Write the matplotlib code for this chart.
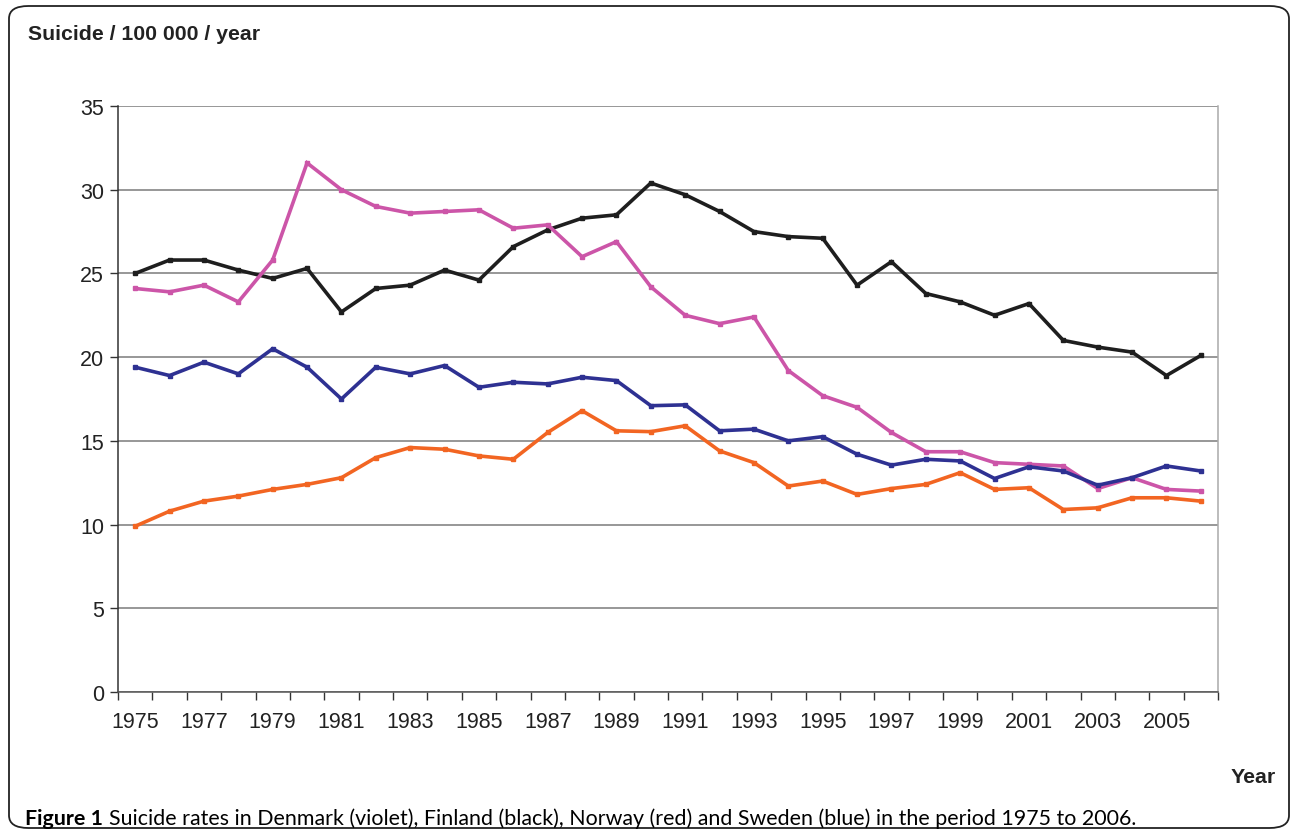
import numpy as np
import matplotlib
matplotlib.use("Agg")
import matplotlib.pyplot as plt
from matplotlib.patches import FancyBboxPatch

years = list(range(1975, 2007))

denmark = [24.1, 23.9, 24.3, 23.3, 25.8, 31.6, 30.0, 29.0, 28.6, 28.7, 28.8, 27.7,
           27.9, 26.0, 26.9, 24.2, 22.5, 22.0, 22.4, 19.2, 17.7, 17.0, 15.5, 14.35,
           14.35, 13.7, 13.6, 13.5, 12.15, 12.8, 12.1, 12.0]
finland = [25.0, 25.8, 25.8, 25.2, 24.7, 25.3, 22.7, 24.1, 24.3, 25.2, 24.6, 26.6,
           27.6, 28.3, 28.5, 30.4, 29.7, 28.7, 27.5, 27.2, 27.1, 24.3, 25.7, 23.8,
           23.3, 22.5, 23.2, 21.0, 20.6, 20.3, 18.9, 20.1]
norway = [9.9, 10.8, 11.4, 11.7, 12.1, 12.4, 12.8, 14.0, 14.6, 14.5, 14.1, 13.9,
          15.5, 16.8, 15.6, 15.55, 15.9, 14.4, 13.7, 12.3, 12.6, 11.8, 12.15, 12.4,
          13.1, 12.1, 12.2, 10.9, 11.0, 11.6, 11.6, 11.4]
sweden = [19.4, 18.9, 19.7, 19.0, 20.5, 19.4, 17.5, 19.4, 19.0, 19.5, 18.2, 18.5,
          18.4, 18.8, 18.6, 17.1, 17.15, 15.6, 15.7, 15.0, 15.25, 14.2, 13.55, 13.9,
          13.8, 12.75, 13.45, 13.2, 12.35, 12.8, 13.5, 13.2]

series = [
    (finland, "#1e1e1e"),
    (denmark, "#cc55a8"),
    (sweden, "#2e3192"),
    (norway, "#f26522"),
]

plt.rcParams["font.family"] = ["Liberation Sans", "DejaVu Sans"]

fig = plt.figure(figsize=(12.95, 8.37), dpi=100)

# rounded outer frame
frame = FancyBboxPatch((9 / 1295, 8 / 837), 1280 / 1295, 822 / 837,
                       boxstyle="round,pad=0,rounding_size=0.015",
                       transform=fig.transFigure, fill=False,
                       edgecolor="#222222", lw=1.3, zorder=0)
fig.patches.append(frame)

ax = fig.add_axes([118 / 1295, 1 - 693 / 837, 1100 / 1295, 586 / 837])
x = np.arange(len(years))
for vals, col in series:
    ax.plot(x, vals, color=col, lw=2.6, marker="s", ms=3.4,
            solid_joinstyle="miter", zorder=3)

ax.set_xlim(-0.5, len(years) - 0.5)
ax.set_ylim(0, 35)
ax.set_yticks(range(0, 36, 5))
ax.tick_params(axis="y", direction="out", length=6, width=1, labelsize=15.5,
               color="#333333", labelcolor="#222222", pad=4)

# category axis: labels on every other year, ticks between categories
ax.set_xticks(x[::2])
ax.set_xticklabels([str(y) for y in years[::2]])
ax.set_xticks(np.arange(-0.5, len(years), 1), minor=True)
ax.tick_params(axis="x", which="major", length=0, labelsize=15.5,
               labelcolor="#222222", pad=14)
ax.tick_params(axis="x", which="minor", direction="out", length=6, width=1,
               color="#333333")

ax.grid(axis="y", color="#7a7a7a", lw=1.1, zorder=1)
ax.set_axisbelow(True)
ax.spines["left"].set_color("#333333")
ax.spines["bottom"].set_color("#555555")
ax.spines["right"].set_color("#aaaaaa")
ax.spines["top"].set_visible(False)
for s in ("left", "bottom", "right"):
    ax.spines[s].set_linewidth(1.1)

fig.text(28 / 1295, 1 - 35 / 837, "Suicide / 100 000 / year", fontsize=15.3,
         fontweight="bold", color="#222222", va="center", ha="left")
fig.text(1276 / 1295, 1 - 778 / 837, "Year", fontsize=15.3, fontweight="bold",
         color="#222222", va="center", ha="right")

# caption: bold "Figure 1" followed by regular text
cap_font = ["Lato", "DejaVu Sans"]
cap1 = fig.text(25 / 1295, 1 - 819 / 837, "Figure 1", fontsize=15.4,
                fontweight="bold", family=cap_font, va="center", ha="left")
fig.canvas.draw()
bb = cap1.get_window_extent()
cap2 = fig.text((bb.x1 + 6) / 1295, 1 - 819 / 837,
                "Suicide rates in Denmark (violet), Finland (black), Norway (red) and Sweden (blue) in the period 1975 to 2006.",
                fontsize=15.4, family=cap_font, va="center", ha="left")

fig.savefig("out.png", dpi=100)
